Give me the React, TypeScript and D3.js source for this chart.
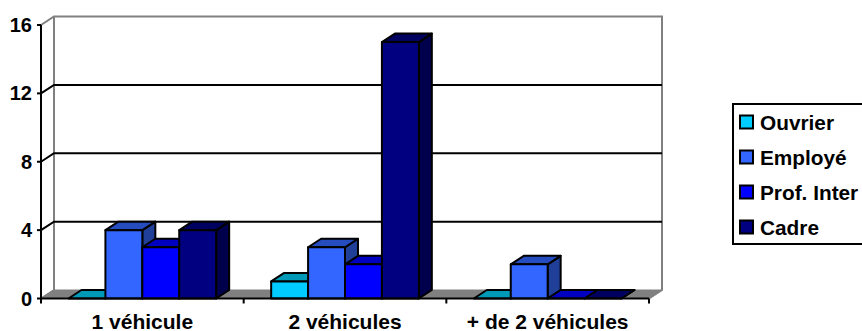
import React from "react";
import * as d3 from "d3";

const categories = ["1 véhicule", "2 véhicules", "+ de 2 véhicules"];
const seriesNames = ["Ouvrier", "Employé", "Prof. Inter", "Cadre"];
const ouvrier = [0, 1, 0];
const employe = [4, 3, 2];
const profInter = [3, 2, 0];
const cadre = [4, 15, 0];
const yTicks = [0, 4, 8, 12, 16];
const front = ["#00ccff", "#3366ff", "#0000ff", "#000080"];
const topC = ["#009ab9", "#264dc0", "#0000c0", "#000060"];
const sideC = ["#006f88", "#1f3f99", "#000099", "#00004d"];

const W = 862, H = 331;
const x0 = 41, x1 = 649, y0 = 298.5, y1 = 25, dx = 13, dy = 8.5;
const FONT = "'Liberation Sans', Arial, sans-serif";

export default function App() {
  const x = d3.scaleBand<string>().domain(categories).range([x0, x1]);
  const y = d3.scaleLinear().domain([0, 16]).range([y0, y1]);
  const inner = d3.scaleBand<string>().domain(seriesNames).range([27.5, x.bandwidth() - 27.5]);
  const allSeries = [ouvrier, employe, profInter, cadre];
  const poly = (p: number[][]) => p.map((q) => q.join(",")).join(" ");
  const legendRows = [122, 157, 192, 227];
  return (
    <svg width={W} height={H} style={{ position: "absolute", left: 0, top: 0 }}>
      <rect width={W} height={H} fill="#fff" />
      {/* floor */}
      <polygon points={poly([[x0, y0], [x0 + dx, y0 - dy], [x1 + dx, y0 - dy], [x1, y0]])} fill="#808080" stroke="#808080" />
      {/* walls */}
      <path d={`M${x0},${y1}L${x0 + dx},${y1 - dy}H${x1 + dx}V${y0 - dy}L${x1},${y0}`} fill="none" stroke="#808080" strokeWidth={2} />
      <path d={`M${x0 + dx},${y1 - dy}V${y0 - dy}`} fill="none" stroke="#808080" strokeWidth={2} />
      <path d={`M${x0},${y0}L${x0 + dx},${y0 - dy}`} fill="none" stroke="#808080" strokeWidth={2} />
      {/* gridlines */}
      {yTicks.filter((t) => t > 0 && t < 16).map((t) => (
        <path key={t} d={`M${x0},${y(t)}L${x0 + dx},${y(t) - dy}H${x1 + dx}`} fill="none" stroke="#000" strokeWidth={2} />
      ))}
      {/* bars */}
      {categories.map((c, ci) =>
        seriesNames.map((s, si) => {
          const v = allSeries[si][ci];
          const l = x(c)! + inner(s)!;
          const r = l + inner.bandwidth();
          const t = y(v);
          return (
            <g key={c + s} stroke="#000" strokeWidth={2} strokeLinejoin="round">
              <polygon points={poly([[r, t], [r + dx, t - dy], [r + dx, y0 - dy], [r, y0]])} fill={sideC[si]} />
              <polygon points={poly([[l, t], [l + dx, t - dy], [r + dx, t - dy], [r, t]])} fill={topC[si]} />
              <rect x={l} y={t} width={r - l} height={y0 - t} fill={front[si]} />
            </g>
          );
        })
      )}
      {/* axes */}
      <path d={`M${x0},${y1}V${y0}H${x1}`} fill="none" stroke="#000" strokeWidth={2} />
      {yTicks.map((t) => (
        <g key={t}>
          <line x1={x0 - 4} x2={x0} y1={y(t)} y2={y(t)} stroke="#000" strokeWidth={2} />
          <text x={x0 - 9} y={y(t) + 7} textAnchor="end" fontFamily={FONT} fontWeight="bold" fontSize={20}>{t}</text>
        </g>
      ))}
      {[x0, ...categories.map((c) => x(c)! + x.bandwidth())].map((t) => (
        <line key={t} x1={t} x2={t} y1={y0} y2={y0 + 5} stroke="#000" strokeWidth={2} />
      ))}
      {categories.map((c) => (
        <text key={c} x={x(c)! + x.bandwidth() / 2} y={329} textAnchor="middle" fontFamily={FONT} fontWeight="bold" fontSize={21}>{c}</text>
      ))}
      {/* legend */}
      <rect x={733} y={104} width={140} height={140} fill="#fff" stroke="#000" strokeWidth={2} />
      {seriesNames.map((s, i) => (
        <g key={s}>
          <rect x={740} y={legendRows[i] - 6.5} width={13} height={13} fill={front[i]} stroke="#000" strokeWidth={2} />
          <text x={760} y={legendRows[i] + 7.5} fontFamily={FONT} fontWeight="bold" fontSize={20.8}>{s}</text>
        </g>
      ))}
    </svg>
  );
}
